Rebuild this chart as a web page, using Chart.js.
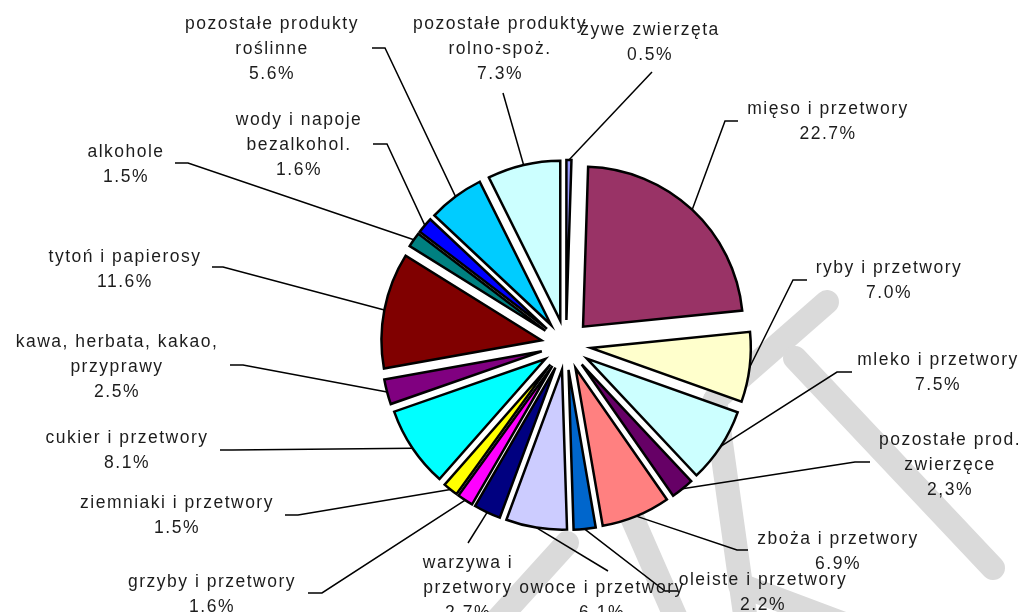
<!DOCTYPE html>
<html lang="pl">
<head>
<meta charset="utf-8">
<title>Struktura - produkty rolno-spożywcze</title>
<script src="https://cdn.jsdelivr.net/npm/chart.js@4.4.1/dist/chart.umd.min.js"></script>
<style>
    html, body { margin: 0; padding: 0; background: #fff; }
    #wrap { width: 1027px; height: 612px; }
</style>
</head>
<body>
<div id="wrap"><canvas id="wykres" width="1027" height="612"></canvas></div>
<script>
// === Dane ===
const kategorie = [
    "żywe zwierzęta",
    "mięso i przetwory",
    "ryby i przetwory",
    "mleko i przetwory",
    "pozostałe prod.\nzwierzęce",
    "zboża i przetwory",
    "oleiste i przetwory",
    "owoce i przetwory",
    "warzywa i\nprzetwory",
    "grzyby i przetwory",
    "ziemniaki i przetwory",
    "cukier i przetwory",
    "kawa, herbata, kakao,\nprzyprawy",
    "tytoń i papierosy",
    "alkohole",
    "wody i napoje\nbezalkohol.",
    "pozostałe produkty\nroślinne",
    "pozostałe produkty\nrolno-spoż."
];
const udzialy = [0.5, 22.7, 7.0, 7.5, 2.3, 6.9, 2.2, 6.1, 2.7, 1.6, 1.5, 8.1, 2.5, 11.6, 1.5, 1.6, 5.6, 7.3];
const etykietyProc = ["0.5%", "22.7%", "7.0%", "7.5%", "2,3%", "6.9%", "2.2%", "6.1%", "2.7%",
                      "1.6%", "1.5%", "8.1%", "2.5%", "11.6%", "1.5%", "1.6%", "5.6%", "7.3%"];
const kolory = ["#9999FF", "#993366", "#FFFFCC", "#CCFFFF", "#660066", "#FF8080", "#0066CC", "#CCCCFF", "#000080",
                "#FF00FF", "#FFFF00", "#00FFFF", "#800080", "#800000", "#008080", "#0000FF", "#00CCFF", "#CCFFFF"];

// === Rozmieszczenie etykiet ===
// środek pierwszej linii tekstu
const etykietyPoz = [
    [650, 30], [828, 109], [889, 268], [938, 360], [950, 440], [838, 539], [763, 580], [602, 588], [468, 563],
    [212, 582], [177, 503], [127, 438], [117, 342], [125, 257], [126, 152], [299, 120], [272, 24], [500, 24]
];
// linia odniesienia: punkt załamania (x, y) i koniec poziomego odcinka (x)
const odnosniki = [
    [652, 72, 652], [725, 121, 738], [793, 280, 807], [837, 372, 852], [855, 462, 870], [737, 550, 748],
    [665, 591, 678], [608, 571, 608], [468, 543, 468], [322, 593, 308], [298, 515, 285], [232, 450, 220],
    [243, 365, 230], [223, 267, 212], [188, 163, 175], [387, 144, 373], [385, 48, 372], [503, 93, 503]
];

const ODSUNIECIE = 25;   // "wysunięcie" wycinków od środka
const PROMIEN = 160;

// === Znak wodny w tle (szare pasy) ===
const znakWodny = {
    id: "znakWodny",
    beforeDraw(chart) {
        const ctx = chart.ctx;
        ctx.save();
        ctx.fillStyle = "#fff";
        ctx.fillRect(0, 0, chart.width, chart.height);
        ctx.strokeStyle = "#dadada";
        ctx.lineWidth = 24;
        ctx.lineCap = "round";
        const pasy = [
            [827, 302, 715, 400],
            [795, 358, 993, 568],
            [715, 400, 750, 650],
            [620, 490, 690, 650],
            [567, 543, 470, 650],
            [740, 585, 900, 645]
        ];
        pasy.forEach(([x1, y1, x2, y2]) => {
            ctx.beginPath();
            ctx.moveTo(x1, y1);
            ctx.lineTo(x2, y2);
            ctx.stroke();
        });
        ctx.restore();
    }
};

// === Wysunięcie wszystkich wycinków ===
const rozsuniecie = {
    id: "rozsuniecie",
    afterDatasetUpdate(chart, args) {
        const ca = chart.chartArea;
        const cx = (ca.left + ca.right) / 2;
        const cy = (ca.top + ca.bottom) / 2;
        args.meta.data.forEach(arc => {
            const mid = (arc.startAngle + arc.endAngle) / 2;
            arc.x = cx + Math.cos(mid) * ODSUNIECIE;
            arc.y = cy + Math.sin(mid) * ODSUNIECIE;
        });
    }
};

// === Etykiety z liniami odniesienia ===
const etykiety = {
    id: "etykiety",
    afterDraw(chart) {
        const ctx = chart.ctx;
        const arcs = chart.getDatasetMeta(0).data;
        ctx.save();
        ctx.strokeStyle = "#000";
        ctx.lineWidth = 1.5;
        arcs.forEach((arc, i) => {
            const mid = (arc.startAngle + arc.endAngle) / 2;
            const ax = arc.x + Math.cos(mid) * arc.outerRadius;
            const ay = arc.y + Math.sin(mid) * arc.outerRadius;
            const [ex, ey, sx] = odnosniki[i];
            ctx.beginPath();
            ctx.moveTo(ax, ay);
            ctx.lineTo(ex, ey);
            ctx.lineTo(sx, ey);
            ctx.stroke();
        });

        ctx.fillStyle = "#1c1c1c";
        ctx.font = '17.5px "Liberation Sans", Arial, sans-serif';
        ctx.letterSpacing = "1.5px";
        ctx.textAlign = "center";
        ctx.textBaseline = "middle";
        kategorie.forEach((nazwa, i) => {
            const linie = nazwa.split("\n").concat(etykietyProc[i]);
            const [x, y] = etykietyPoz[i];
            linie.forEach((t, k) => ctx.fillText(t, x, y + k * 25));
        });
        ctx.restore();
    }
};

new Chart(document.getElementById("wykres"), {
    type: "pie",
    data: {
        labels: kategorie,
        datasets: [{
            data: udzialy,
            backgroundColor: kolory,
            borderColor: "#000",
            borderWidth: 2.5,
            borderJoinStyle: "miter",
            radius: PROMIEN
        }]
    },
    options: {
        responsive: false,
        animation: false,
        events: [],
        layout: { padding: { left: 105, right: 0, top: 78, bottom: 0 } },
        plugins: {
            legend: { display: false },
            tooltip: { enabled: false }
        }
    },
    plugins: [znakWodny, rozsuniecie, etykiety]
});
</script>
</body>
</html>
